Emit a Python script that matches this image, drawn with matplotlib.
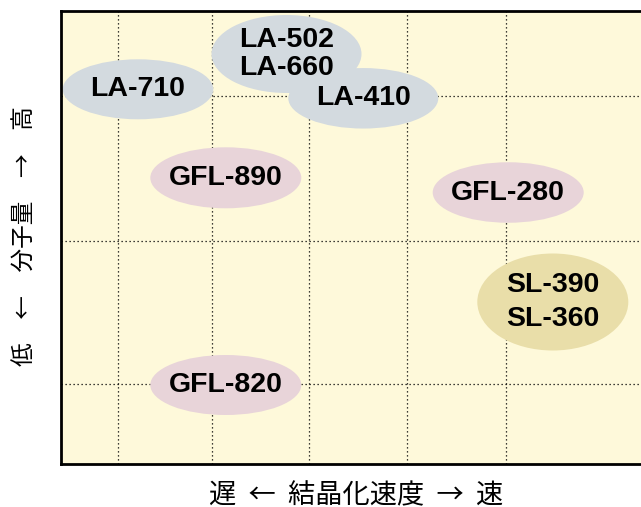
import matplotlib
matplotlib.use("Agg")
import matplotlib.pyplot as plt
from matplotlib.patches import Ellipse

# ---- data (chart units: x = crystallization speed, y = molecular weight) ----
labels = ["LA-710", "LA-502\nLA-660", "LA-410", "GFL-890", "GFL-280", "SL-390\nSL-360", "GFL-820"]
x_speed = [77.5, 226.0, 302.8, 165.3, 447.7, 492.3, 165.3]
y_mw = [374.2, 409.5, 365.2, 285.7, 271.0, 161.5, 78.5]
ell_w = [150.6, 150.0, 150.0, 151.0, 151.0, 151.0, 151.0]
ell_h = [60.0, 78.0, 60.5, 61.0, 60.5, 97.0, 60.0]
groups = ["LA", "LA", "LA", "GFL", "GFL", "SL", "GFL"]
draw_order = [1, 2, 0, 3, 4, 5, 6]

grid_x = [57.2, 151.2, 248.1, 346.1, 445.5]
grid_y = [79.5, 223.0, 368.0]
x_range = (0, 591)
y_range = (0, 452.5)

xlabel = "遅  ←  結晶化速度  →  速"
ylabel = "低\u3000←\u3000分子量\u3000→\u3000高"

colors = {"LA": "#d3dadf", "GFL": "#e8d4d9", "SL": "#e9dea9"}
line_gap = {"LA": 1.1, "GFL": 1.1, "SL": 1.38}
bg = "#fef9da"

W, H = 641, 507
fig = plt.figure(figsize=(W / 100, H / 100), dpi=100)
ax = fig.add_axes([60.5 / W, (H - 463.5) / H, 591 / W, 452.5 / H])
ax.set_xlim(*x_range)
ax.set_ylim(*y_range)
ax.set_facecolor(bg)
ax.set_xticks([])
ax.set_yticks([])
for s in ax.spines.values():
    s.set_linewidth(2.0)
    s.set_color("black")

for gx in grid_x:
    ax.axvline(gx, color="black", lw=0.9, linestyle=(0, (1, 2.2)), zorder=1)
for gy in grid_y:
    ax.axhline(gy, color="black", lw=0.9, linestyle=(0, (1, 2.2)), zorder=1)

for i in draw_order:
    e = Ellipse((x_speed[i], y_mw[i]), ell_w[i], ell_h[i],
                facecolor=colors[groups[i]], edgecolor="none", zorder=2)
    ax.add_patch(e)
for i in range(len(labels)):
    ax.text(x_speed[i], y_mw[i], labels[i], ha="center", va="center",
            fontsize=20.5, fontweight="bold", family="Liberation Sans",
            linespacing=line_gap[groups[i]], zorder=3)

cjk = ["Noto Sans CJK JP", "DejaVu Sans"]
fig.text(356 / W, 1 - 496 / H, xlabel, ha="center", va="center",
         fontsize=19.6, family=cjk)
fig.text(25 / W, 1 - 236 / H, ylabel, ha="center", va="center",
         fontsize=17, family=cjk, rotation=90)

fig.savefig("out.png", dpi=100)
